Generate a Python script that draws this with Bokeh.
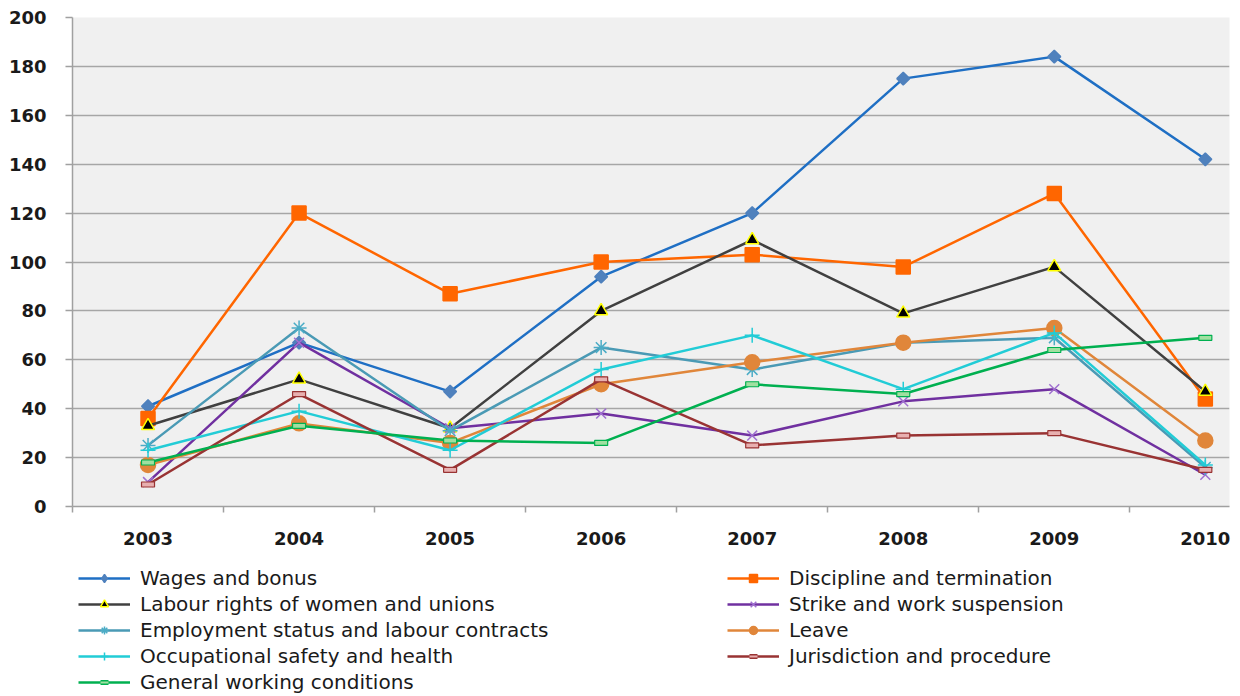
import math
from bokeh.plotting import figure
from bokeh.models import FixedTicker, Legend, LegendItem, Range1d
from bokeh.layouts import column, row
from bokeh.embed import file_html
from bokeh.resources import INLINE

years = [2003, 2004, 2005, 2006, 2007, 2008, 2009, 2010]
wages = [41, 67, 47, 94, 120, 175, 184, 142]
discipline = [36, 120, 87, 100, 103, 98, 128, 44]
labour_rights = [33, 52, 32, 80, 109, 79, 98, 47]
strike = [10, 67, 32, 38, 29, 43, 48, 13]
employment = [25, 73, 31, 65, 56, 67, 69, 16]
leave = [17, 34, 26, 50, 59, 67, 73, 27]
occupational = [23, 39, 23, 56, 70, 48, 71, 17]
jurisdiction = [9, 46, 15, 52, 25, 29, 30, 15]
general = [18, 33, 27, 26, 50, 46, 64, 69]
y_ticks = [0, 20, 40, 60, 80, 100, 120, 140, 160, 180, 200]

labels = ["Wages and bonus", "Discipline and termination", "Labour rights of women and unions",
          "Strike and work suspension", "Employment status and labour contracts", "Leave",
          "Occupational safety and health", "Jurisdiction and procedure", "General working conditions"]

# (values, line colour, marker, fill, outline, size, angle)
styles = [
    (wages, "#1F6FC4", "square", "#4F81BD", "#4F81BD", 9, math.pi / 4),
    (discipline, "#FF6600", "square", "#FF6600", "#FF6600", 14, 0),
    (labour_rights, "#404040", "triangle", "black", "#FFFF00", 13, 0),
    (strike, "#7030A0", "x", "#A070D0", "#A070D0", 14, 0),
    (employment, "#4A9AB5", "asterisk", "#4BACC6", "#4BACC6", 15, 0),
    (leave, "#E0863A", "circle", "#E0863A", "#E0863A", 15, 0),
    (occupational, "#22CCD6", "cross", "#22CCD6", "#22CCD6", 15, 0),
    (jurisdiction, "#993333", "rect", "#E8B0B0", "#993333", 0, 0),
    (general, "#00B050", "rect", "#A0E0A0", "#00B050", 0, 0),
]

p = figure(frame_width=1157, frame_height=489, output_backend="svg", toolbar_location=None,
           x_range=Range1d(2002.5, 2010.16), y_range=Range1d(0, 200),
           min_border_left=72, min_border_right=11, min_border_top=17, min_border_bottom=54)
p.background_fill_color = "#F0F0F0"
p.border_fill_color = "white"
p.outline_line_color = None

p.xgrid.grid_line_color = None
p.ygrid.grid_line_color = "#A6A6A6"
p.ygrid.grid_line_width = 1.5
p.yaxis.ticker = FixedTicker(ticks=y_ticks)
p.xaxis.ticker = FixedTicker(ticks=years, minor_ticks=[y - 0.5 for y in years])
p.xaxis.formatter.use_scientific = False

for ax in (p.xaxis[0], p.yaxis[0]):
    ax.axis_line_color = "#A0A0A0"
    ax.axis_line_width = 1.5
    ax.major_label_text_font = "DejaVu Sans"
    ax.major_label_text_font_style = "bold"
    ax.major_label_text_font_size = "18px"
    ax.major_label_text_color = "#1A1A1A"
    ax.minor_tick_line_color = None

p.yaxis.major_tick_line_color = "#A0A0A0"
p.yaxis.major_tick_line_width = 1.5
p.yaxis.major_tick_out = 7
p.yaxis.major_tick_in = 0
p.yaxis.major_label_standoff = 19

p.xaxis.major_tick_line_color = None
p.xaxis.minor_tick_line_color = "#A0A0A0"
p.xaxis.minor_tick_line_width = 1.5
p.xaxis.minor_tick_out = 6
p.xaxis.minor_tick_in = 0
p.xaxis.major_tick_out = 6
p.xaxis.major_label_standoff = 19


def draw(fig, xs, vals, style, legend_only=False):
    _, lc, marker, fill, outline, size, angle = style
    rs = [fig.line(xs, vals, line_color=lc, line_width=2.5)]
    if marker == "rect":
        if not legend_only:
            rs.append(fig.rect(xs, vals, width=13, height=5, width_units="screen",
                               height_units="screen", fill_color=fill, line_color=outline,
                               line_width=1.2))
        else:
            rs.append(fig.scatter(xs, vals, marker="dash", size=12, line_color=outline, line_width=5))
            rs.append(fig.scatter(xs, vals, marker="dash", size=10, line_color=fill, line_width=2))
    else:
        if legend_only and angle:
            marker, size, angle = "diamond", 14, 0
        rs.append(fig.scatter(xs, vals, marker=marker, size=size, angle=angle, fill_color=fill,
                              line_color=outline, line_width=1.5))
    return rs


for st in styles:
    draw(p, years, st[0], st)


def legend_fig(width, idx):
    f = figure(width=width, height=136, output_backend="svg", toolbar_location=None,
               x_range=Range1d(0, 1), y_range=Range1d(0, 1),
               min_border=0, min_border_left=72, min_border_right=0,
               min_border_top=0, min_border_bottom=0)
    f.axis.visible = False
    f.grid.visible = False
    f.outline_line_color = None
    items = []
    for i in idx:
        rs = draw(f, [-10, -9], [-10, -10], styles[i], legend_only=True)
        items.append(LegendItem(label=labels[i], renderers=rs))
    lg = Legend(items=items, location="top_left")
    lg.label_text_font = "DejaVu Sans"
    lg.label_text_font_size = "20px"
    lg.label_text_color = "#1A1A1A"
    lg.glyph_width = 52
    lg.glyph_height = 20
    lg.label_standoff = 10
    lg.spacing = 2
    lg.padding = 0
    lg.margin = 6
    lg.border_line_color = None
    lg.background_fill_alpha = 0
    f.add_layout(lg, "center")
    return f


left = legend_fig(649, [0, 2, 4, 6, 8])
right = legend_fig(591, [1, 3, 5, 7])

layout = column(p, row(left, right))
open("out.html", "w").write(file_html(layout, INLINE))
